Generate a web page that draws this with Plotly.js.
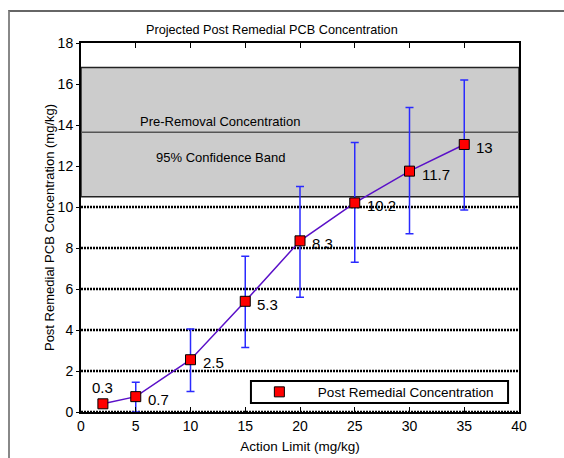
<!DOCTYPE html>
<html><head><meta charset="utf-8">
<script src="https://cdn.plot.ly/plotly-3.0.1.min.js"></script>
<style>
html,body{margin:0;padding:0;background:#fff;}
#frame{position:absolute;left:8px;top:10px;width:600px;height:500px;border-top:2px solid #666;border-left:2px solid #888;}
#chart{position:absolute;left:0;top:0;width:564px;height:458px;}
</style></head>
<body>
<div id="frame"></div>
<div id="chart"></div>
<script>
const actionLimit = [2, 5, 10, 15, 20, 25, 30, 35];
const concentration = [0.4, 0.75, 2.55, 5.4, 8.35, 10.2, 11.75, 13.05];
const labels = ["0.3", "0.7", "2.5", "5.3", "8.3", "10.2", "11.7", "13"];
const upper = [null, 1.45, 4.05, 7.6, 11.0, 13.15, 14.85, 16.2];
const lower = [null, 0.0, 1.0, 3.15, 5.6, 7.3, 8.7, 9.85];
const gridValues = [0, 2, 4, 6, 8, 10];
const bandLow = 10.5, bandMid = 13.65, bandHigh = 16.8;

const errPlus = concentration.map((v,i)=> upper[i]===null ? 0 : upper[i]-v);
const errMinus = concentration.map((v,i)=> lower[i]===null ? 0 : v-lower[i]);

const lineTrace = {
  x: actionLimit, y: concentration, type: 'scatter', mode: 'lines', showlegend: false,
  line: {color: '#5a10c8', width: 1.5}, hoverinfo: 'skip'
};
const markerTrace = {
  x: actionLimit, y: concentration, type: 'scatter', mode: 'markers',
  name: 'Post Remedial Concentration',
  marker: {symbol: 'square', size: 10, color: '#ff0000', line: {color: '#000', width: 1}},
  error_y: {type: 'data', symmetric: false, array: errPlus, arrayminus: errMinus,
            color: '#2a2aff', thickness: 1.5, width: 4}
};

const annotations = actionLimit.map((x,i)=>{
  if (i===0) return {x:x, y:concentration[i], text:labels[i], showarrow:false,
    xanchor:'center', yanchor:'bottom', yshift:6, font:{size:15}};
  return {x:x, y:concentration[i], text:labels[i], showarrow:false,
    xanchor:'left', yanchor:'middle', xshift:10, yshift:-3, font:{size:15}};
});
annotations.push({xref:'x', yref:'y', x:12.7, y:14.15, text:'Pre-Removal Concentration', showarrow:false, font:{size:13}});
annotations.push({xref:'x', yref:'y', x:12.7, y:12.4, text:'95% Confidence Band', showarrow:false, font:{size:13}});

const shapes = gridValues.map(v=>({type:'line', xref:'paper', yref:'y', x0:0, x1:1, y0:v, y1:v,
  line:{color:'#000', width:2.5, dash:'2px,1px'}, layer:'below'}));
shapes.push({type:'rect', xref:'paper', yref:'y', x0:0, x1:1, y0:bandLow, y1:bandHigh, fillcolor:'#cccccc', line:{color:'#222', width:1.5}, layer:'below'});
shapes.push({type:'line', xref:'paper', yref:'y', x0:0, x1:1, y0:bandMid, y1:bandMid, line:{color:'#555', width:1.5}, layer:'below'});
// legend frame
shapes.push({type:'rect', xref:'paper', yref:'paper', x0:0.388, x1:0.975, y0:0.0244, y1:0.084, fillcolor:'#fff', line:{color:'#000', width:2}, layer:'above'});

const layout = {
  width: 564, height: 458,
  margin: {l: 81, r: 45, t: 43, b: 46},
  paper_bgcolor: 'rgba(0,0,0,0)', plot_bgcolor: '#fff',
  font: {family: 'Liberation Sans, Arial, sans-serif', size: 14, color: '#000'},
  title: {text: 'Projected Post Remedial PCB Concentration', x: 0.482, xanchor: 'center', y: 0.935, yanchor: 'middle', font: {size: 12.7}},
  xaxis: {range: [0, 40], dtick: 5, tick0: 0, showgrid: false, zeroline: false,
    showline: true, linecolor: '#000', linewidth: 2, mirror: 'ticks',
    ticks: 'inside', ticklen: 5, tickcolor: '#000', tickwidth: 1,
    title: {text: 'Action Limit (mg/kg)', font: {size: 13.5}, standoff: 9}},
  yaxis: {range: [0, 18], dtick: 2, tick0: 0, showgrid: false,
    zeroline: false, showline: true, linecolor: '#000', linewidth: 2, mirror: true,
    ticks: 'outside', ticklen: 3, tickcolor: '#000',
    title: {text: 'Post Remedial PCB Concentration (mg/kg)', font: {size: 13}, standoff: 0}},
  shapes: shapes,
  annotations: annotations,
  showlegend: true,
  legend: {x: 0.365, y: 0.054, xanchor: 'left', yanchor: 'middle', bgcolor: 'rgba(0,0,0,0)', borderwidth: 0,
    font: {size: 13.5}, itemwidth: 67}
};
Plotly.newPlot('chart', [lineTrace, markerTrace], layout, {displayModeBar: false});
</script>
</body></html>
